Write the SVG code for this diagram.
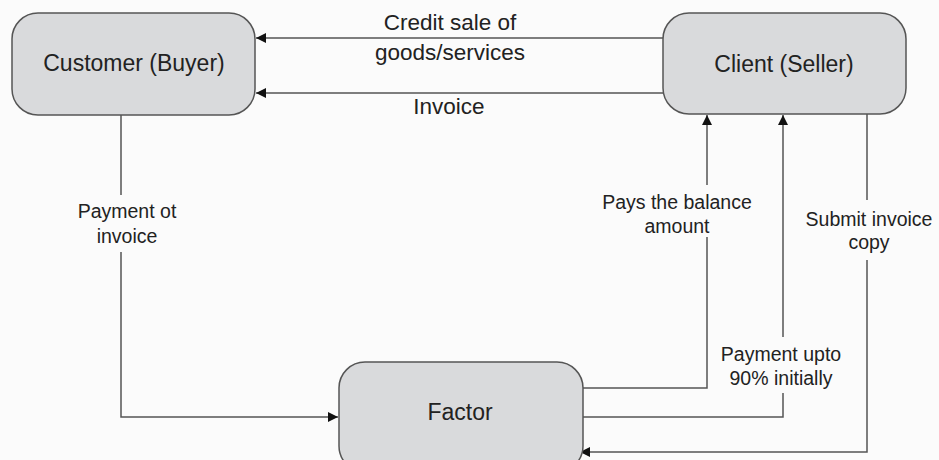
<svg xmlns="http://www.w3.org/2000/svg" width="939" height="460" viewBox="0 0 939 460">
<style>
.node rect{fill:#d9dadc;stroke:#555;stroke-width:1.5}
.nt{font-family:"Liberation Sans",Arial,sans-serif;font-size:23px;fill:#222;text-anchor:middle}
.lt{font-family:"Liberation Sans",Arial,sans-serif;font-size:22.5px;fill:#222;text-anchor:middle}
.st{font-family:"Liberation Sans",Arial,sans-serif;font-size:19.5px;fill:#222;text-anchor:middle}
#connectors path{fill:none;stroke:#555;stroke-width:1.5}
</style>
<defs>
<marker id="ah" viewBox="0 0 10 10" refX="10" refY="5" markerWidth="10" markerHeight="10" markerUnits="userSpaceOnUse" orient="auto">
<path d="M0,0 L10,5 L0,10 Z" fill="#111"/>
</marker>
</defs>
<rect width="939" height="460" fill="#fbfbfb"/>
<g id="connectors">
<path d="M663,38 H256" marker-end="url(#ah)"/>
<path d="M663,93 H256" marker-end="url(#ah)"/>
<path d="M121,115 V195"/>
<path d="M121,252 V417 H338" marker-end="url(#ah)"/>
<path d="M583,388 H707 V237"/>
<path d="M707,185 V115" marker-end="url(#ah)"/>
<path d="M583,417 H783 V393"/>
<path d="M783,337 V115" marker-end="url(#ah)"/>
<path d="M867,114 V200"/>
<path d="M867,260 V452 H580" marker-end="url(#ah)"/>
<text class="lt" x="450" y="30">Credit sale of</text>
<text class="lt" x="450" y="60">goods/services</text>
<text class="lt" x="449" y="114">Invoice</text>
<text class="st" x="127" y="218">Payment ot</text>
<text class="st" x="127" y="243">invoice</text>
<text class="st" x="677" y="209">Pays the balance</text>
<text class="st" x="677" y="233">amount</text>
<text class="st" x="869" y="226">Submit invoice</text>
<text class="st" x="869" y="249">copy</text>
<text class="st" x="781" y="361">Payment upto</text>
<text class="st" x="781" y="385">90% initially</text>
</g>
<g id="customer" class="node">
<rect x="12" y="13" width="243" height="102" rx="26"/>
<text class="nt" x="134" y="71">Customer (Buyer)</text>
</g>
<g id="client" class="node">
<rect x="663" y="13" width="243" height="101" rx="26"/>
<text class="nt" x="784" y="72">Client (Seller)</text>
</g>
<g id="factor" class="node">
<rect x="339" y="362" width="244" height="110" rx="26"/>
<text class="nt" x="460" y="420">Factor</text>
</g>
</svg>
